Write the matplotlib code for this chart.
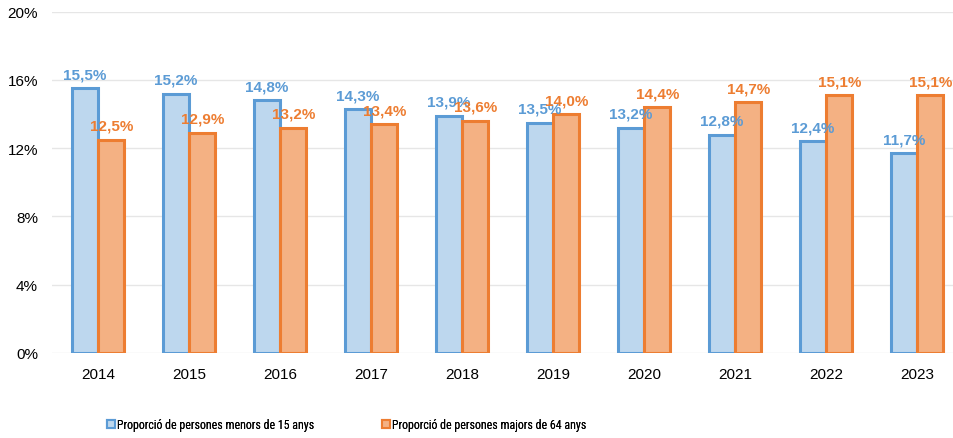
import matplotlib
matplotlib.use("Agg")
import matplotlib.pyplot as plt
from matplotlib.lines import Line2D
import numpy as np

years = ["2014", "2015", "2016", "2017", "2018", "2019", "2020", "2021", "2022", "2023"]
menors15 = [15.5, 15.2, 14.8, 14.3, 13.9, 13.5, 13.2, 12.8, 12.4, 11.7]
majors64 = [12.5, 12.9, 13.2, 13.4, 13.6, 14.0, 14.4, 14.7, 15.1, 15.1]
series_names = ["Proporció de persones menors de 15 anys", "Proporció de persones majors de 64 anys"]
yticks = [0, 4, 8, 12, 16, 20]

plt.rcParams['font.family'] = ['Liberation Sans', 'DejaVu Sans']

blue_edge, blue_fill = "#5B9BD5", "#BDD7EE"
orange_edge, orange_fill = "#ED7D31", "#F4B183"

fig = plt.figure(figsize=(9.54, 4.39), dpi=100)
left = 52.5 / 954
bottom = 85 / 439
top = 426.3 / 439
ax = fig.add_axes([left, bottom, 1 - left, top - bottom])

x = np.arange(len(years))
w = 0.29
ax.bar(x - w / 2, menors15, width=w, color=blue_fill, edgecolor=blue_edge, linewidth=2.2, zorder=3)
ax.bar(x + w / 2, majors64, width=w, color=orange_fill, edgecolor=orange_edge, linewidth=2.2, zorder=3)

for xi, v in zip(x, menors15):
    ax.annotate(f"{v:.1f}%".replace(".", ","), (xi - w / 2, v), xytext=(0, 5), textcoords="offset points",
                ha="center", va="bottom", color=blue_edge, fontsize=11, fontweight="bold")
for xi, v in zip(x, majors64):
    ax.annotate(f"{v:.1f}%".replace(".", ","), (xi + w / 2, v), xytext=(0, 5), textcoords="offset points",
                ha="center", va="bottom", color=orange_edge, fontsize=11, fontweight="bold")

ax.set_ylim(0, 20)
ax.set_xlim(-0.5, -0.5 + (954 - 52.5) / 91.0)
ax.set_yticks(yticks)
ax.set_yticklabels([f"{t}%" for t in yticks], fontsize=11)
ax.set_xticks(x)
ax.set_xticklabels(years, fontsize=11)
ax.tick_params(axis="x", length=0, pad=10)
ax.tick_params(axis="y", length=0, pad=10.5)
ax.grid(axis="y", color="#E6E6E6", linewidth=1, zorder=0)
for s in ax.spines.values():
    s.set_visible(False)

legend_font = {'family': ['Roboto Condensed', 'DejaVu Sans'], 'size': 8.6}
edges = [blue_edge, orange_edge]
fills = [blue_fill, orange_fill]
starts = [107, 382]
for name, ec, fc, sx in zip(series_names, edges, fills, starts):
    h = Line2D([], [], linestyle="none", marker="s", markersize=5.2, markerfacecolor=fc,
               markeredgecolor=ec, markeredgewidth=1.5)
    leg = fig.legend([h], [name], loc="center left", bbox_to_anchor=(sx / 954, 1 - 426 / 439),
                     frameon=False, prop=legend_font, handlelength=0.7, handletextpad=0.15,
                     borderpad=0, borderaxespad=0)
    fig.add_artist(leg)

fig.savefig("out.png", dpi=100)
